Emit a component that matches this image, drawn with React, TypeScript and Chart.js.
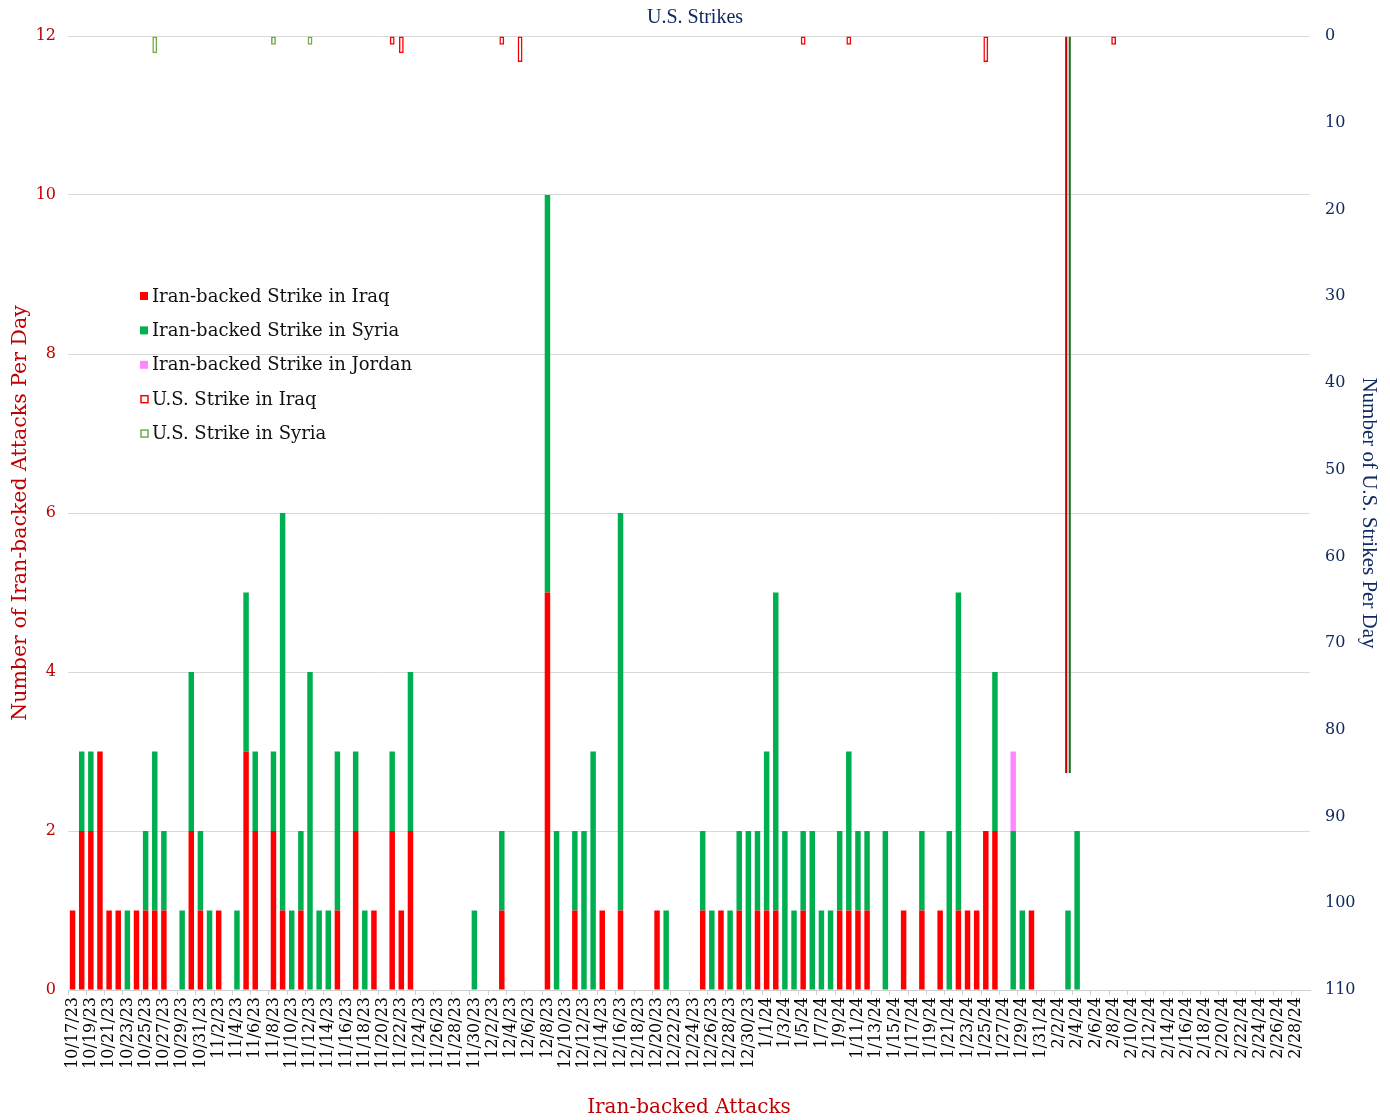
import React, { useEffect, useRef } from 'react';
import { Chart, registerables } from 'chart.js';

Chart.register(...registerables);

// ---------- categories ----------
const dates = [
  '10/17/23','10/18/23','10/19/23','10/20/23','10/21/23','10/22/23','10/23/23','10/24/23','10/25/23','10/26/23',
  '10/27/23','10/28/23','10/29/23','10/30/23','10/31/23',
  '11/1/23','11/2/23','11/3/23','11/4/23','11/5/23','11/6/23','11/7/23','11/8/23','11/9/23','11/10/23',
  '11/11/23','11/12/23','11/13/23','11/14/23','11/15/23','11/16/23','11/17/23','11/18/23','11/19/23','11/20/23',
  '11/21/23','11/22/23','11/23/23','11/24/23','11/25/23','11/26/23','11/27/23','11/28/23','11/29/23','11/30/23',
  '12/1/23','12/2/23','12/3/23','12/4/23','12/5/23','12/6/23','12/7/23','12/8/23','12/9/23','12/10/23',
  '12/11/23','12/12/23','12/13/23','12/14/23','12/15/23','12/16/23','12/17/23','12/18/23','12/19/23','12/20/23',
  '12/21/23','12/22/23','12/23/23','12/24/23','12/25/23','12/26/23','12/27/23','12/28/23','12/29/23','12/30/23',
  '12/31/23',
  '1/1/24','1/2/24','1/3/24','1/4/24','1/5/24','1/6/24','1/7/24','1/8/24','1/9/24','1/10/24',
  '1/11/24','1/12/24','1/13/24','1/14/24','1/15/24','1/16/24','1/17/24','1/18/24','1/19/24','1/20/24',
  '1/21/24','1/22/24','1/23/24','1/24/24','1/25/24','1/26/24','1/27/24','1/28/24','1/29/24','1/30/24',
  '1/31/24',
  '2/1/24','2/2/24','2/3/24','2/4/24','2/5/24','2/6/24','2/7/24','2/8/24','2/9/24','2/10/24',
  '2/11/24','2/12/24','2/13/24','2/14/24','2/15/24','2/16/24','2/17/24','2/18/24','2/19/24','2/20/24',
  '2/21/24','2/22/24','2/23/24','2/24/24','2/25/24','2/26/24','2/27/24','2/28/24','2/29/24',
];

// ---------- Iran-backed attacks per day (left axis) ----------
const iraqAttacks = [
  // Oct 17-31
  1,2,2,3,1,1,0,1,1,1,1,0,0,2,1,
  // Nov
  0,1,0,0,3,2,0,2,1,0,1,0,0,0,1,0,2,0,1,0,2,1,2,0,0,0,0,0,0,0,
  // Dec
  0,0,1,0,0,0,0,5,0,0,1,0,0,1,0,1,0,0,0,1,0,0,0,0,1,0,1,0,1,0,1,
  // Jan
  1,1,0,0,1,0,0,0,1,1,1,1,0,0,0,1,0,1,0,1,0,1,1,1,2,2,0,0,0,1,0,
  // Feb
  0,0,0,0,0,0,0,0,0,0,0,0,0,0,0,0,0,0,0,0,0,0,0,0,0,0,0,0,0,
];

const syriaAttacks = [
  // Oct 17-31
  0,1,1,0,0,0,1,0,1,2,1,0,1,2,1,
  // Nov
  1,0,0,1,2,1,0,1,5,1,1,4,1,1,2,0,1,1,0,0,1,0,2,0,0,0,0,0,0,1,
  // Dec
  0,0,1,0,0,0,0,5,2,0,1,2,3,0,0,5,0,0,0,0,1,0,0,0,1,1,0,1,1,2,1,
  // Jan
  2,4,2,1,1,2,1,1,1,2,1,1,0,2,0,0,0,1,0,0,2,4,0,0,0,2,0,2,1,0,0,
  // Feb
  0,0,1,2,0,0,0,0,0,0,0,0,0,0,0,0,0,0,0,0,0,0,0,0,0,0,0,0,0,
];

const jordanAttackDates = ['1/28/24'];
const jordanAttackCounts = [1];

// ---------- U.S. strikes per day (right axis, reversed) ----------
const usIraqStrikeDates = ['11/21/23','11/22/23','12/3/23','12/5/23','1/5/24','1/10/24','1/25/24','2/3/24','2/8/24'];
const usIraqStrikeCounts = [1, 2, 1, 3, 1, 1, 3, 85, 1];
const usSyriaStrikeDates = ['10/26/23','11/8/23','11/12/23','2/3/24'];
const usSyriaStrikeCounts = [2, 1, 1, 85];

const leftMax = 12;
const leftStep = 2;
const rightMax = 110;
const rightStep = 10;

// ---------- styles ----------
const RED = '#ff0000';
const GREEN = '#00b050';
const PINK = '#ff88ff';
const US_GREEN = '#70ad47';
const DARK_RED = '#c00000';
const NAVY = '#0f2a63';
const SERIF = '"DejaVu Serif", serif';
const SERIF2 = '"Liberation Serif", serif';

function sparse(ds: string[], vs: number[]): (number | null)[] {
  const arr: (number | null)[] = dates.map(() => null);
  ds.forEach((d, k) => {
    const idx = dates.indexOf(d);
    if (idx >= 0) arr[idx] = vs[k];
  });
  return arr;
}

const floatingLegend = {
  id: 'floatingLegend',
  afterDraw(chart: any) {
    const ctx = chart.ctx as CanvasRenderingContext2D;
    ctx.save();
    ctx.font = '18px ' + SERIF;
    ctx.textBaseline = 'middle';
    ctx.textAlign = 'left';
    chart.data.datasets.forEach((ds: any, k: number) => {
      const y = 296 + k * 34.4;
      if (ds.legendHollow) {
        ctx.fillStyle = '#ffffff';
        ctx.fillRect(141, y - 3.5, 7, 7);
        ctx.strokeStyle = ds.legendColor;
        ctx.lineWidth = 1.5;
        ctx.strokeRect(141, y - 3.5, 7, 7);
      } else {
        ctx.fillStyle = ds.legendColor;
        ctx.fillRect(140, y - 4, 8, 8);
      }
      ctx.fillStyle = '#111111';
      ctx.fillText(ds.label, 152, y + 1);
    });
    ctx.restore();
  },
};

export default function App() {
  const ref = useRef<HTMLCanvasElement>(null);

  useEffect(() => {
    if (!ref.current) return;
    const iranCommon = {
      yAxisID: 'y',
      grouped: false,
      categoryPercentage: 1,
      barPercentage: 0.6,
      borderWidth: 0,
    };
    const usCommon = {
      yAxisID: 'y2',
      grouped: true,
      skipNull: true,
      categoryPercentage: 0.74,
      barPercentage: 0.72,
      borderWidth: 1.5,
      borderSkipped: false,
      backgroundColor: 'rgba(255,255,255,0)',
      legendHollow: true,
    };
    const chart = new Chart(ref.current, {
      type: 'bar',
      data: {
        labels: dates,
        datasets: [
          { ...iranCommon, label: 'Iran-backed Strike in Iraq', data: iraqAttacks, backgroundColor: RED, legendColor: RED } as any,
          { ...iranCommon, label: 'Iran-backed Strike in Syria', data: syriaAttacks, backgroundColor: GREEN, legendColor: GREEN } as any,
          { ...iranCommon, label: 'Iran-backed Strike in Jordan', data: sparse(jordanAttackDates, jordanAttackCounts), backgroundColor: PINK, legendColor: PINK } as any,
          {
            ...usCommon,
            label: 'U.S. Strike in Iraq',
            stack: 'usIraq',
            data: sparse(usIraqStrikeDates, usIraqStrikeCounts),
            borderColor: (c: any) => (c.raw > 50 ? DARK_RED : RED),
            legendColor: RED,
          } as any,
          {
            ...usCommon,
            label: 'U.S. Strike in Syria',
            stack: 'usSyria',
            data: sparse(usSyriaStrikeDates, usSyriaStrikeCounts),
            borderColor: (c: any) => (c.raw > 50 ? '#1f6b1f' : US_GREEN),
            legendColor: US_GREEN,
          } as any,
        ],
      },
      options: {
        responsive: false,
        animation: false,
        devicePixelRatio: 1,
        layout: { padding: 0 },
        plugins: {
          legend: { display: false },
          tooltip: { enabled: false },
          title: {
            display: true,
            text: 'U.S. Strikes',
            color: NAVY,
            font: { family: SERIF2, size: 20, weight: 'normal' },
            padding: { top: 6, bottom: 6 },
          },
        },
        scales: {
          x: {
            type: 'category',
            offset: true,
            grid: {
              display: true,
              drawOnChartArea: false,
              drawTicks: true,
              tickLength: 5,
              offset: true,
              color: (c: any) => (c.index % 2 === 0 ? '#d0d0d0' : 'rgba(0,0,0,0)'),
              lineWidth: 1,
            },
            border: { display: true, color: '#d0d0d0', width: 1 },
            ticks: {
              autoSkip: false,
              maxRotation: 90,
              minRotation: 90,
              padding: 2,
              color: '#000000',
              font: { family: SERIF, size: 16 },
              callback: (_v: any, i: number) => (i % 2 === 0 ? dates[i] : ''),
            },
            title: {
              display: true,
              text: 'Iran-backed Attacks',
              color: DARK_RED,
              font: { family: SERIF, size: 20 },
              padding: { top: 0, bottom: 0 },
            },
            afterFit: (s: any) => { s.height = 130; },
          },
          y: {
            position: 'left',
            min: 0,
            max: leftMax,
            stacked: true,
            ticks: { stepSize: leftStep, color: DARK_RED, font: { family: SERIF, size: 16 }, padding: 12 },
            grid: { color: '#d9d9d9', drawTicks: false, lineWidth: 1 },
            border: { display: false },
            title: {
              display: true,
              text: 'Number of Iran-backed Attacks Per Day',
              color: DARK_RED,
              font: { family: SERIF, size: 20.5 },
              padding: { top: 8, bottom: 0 },
            },
            afterFit: (s: any) => { s.width = 68; },
          },
          y2: {
            position: 'right',
            reverse: true,
            min: 0,
            max: rightMax,
            stacked: false,
            ticks: { stepSize: rightStep, color: NAVY, font: { family: SERIF, size: 16 }, padding: 15 },
            grid: { drawOnChartArea: false, drawTicks: false },
            border: { display: false },
            title: {
              display: true,
              text: 'Number of U.S. Strikes Per Day',
              color: NAVY,
              font: { family: SERIF2, size: 21 },
              padding: { top: 9, bottom: 0 },
            },
            afterFit: (s: any) => { s.width = 80; },
          },
        },
      } as any,
      plugins: [floatingLegend],
    });
    return () => chart.destroy();
  }, []);

  return (
    <div style={{ position: 'absolute', left: 0, top: 0, width: 1390, height: 1120, background: '#ffffff' }}>
      <canvas ref={ref} width={1390} height={1120} style={{ display: 'block', width: 1390, height: 1120 }} />
    </div>
  );
}
